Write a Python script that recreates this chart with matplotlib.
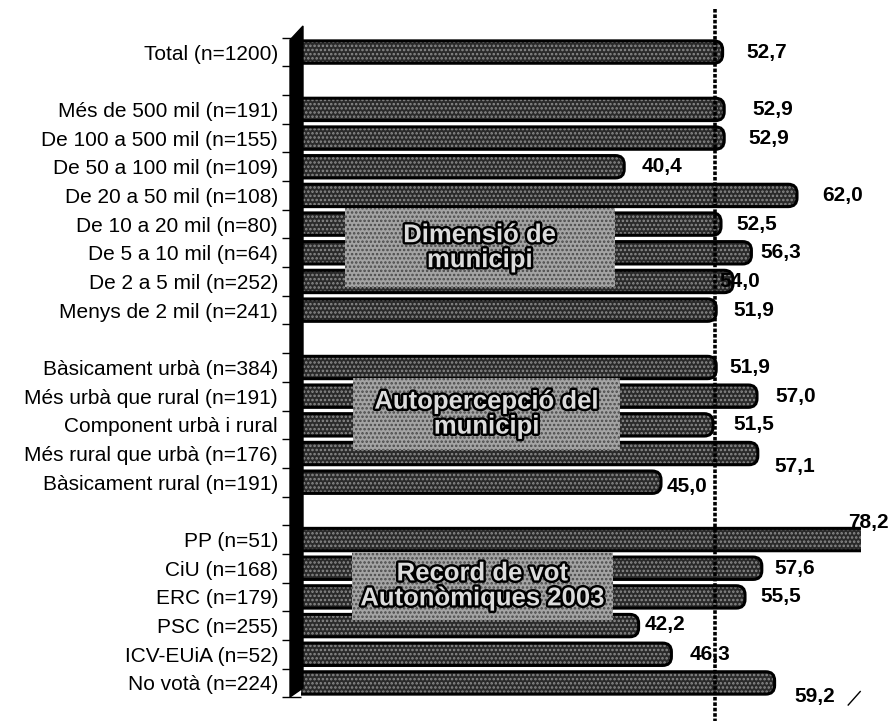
import matplotlib.pyplot as plt
import matplotlib.patheffects as pe
from matplotlib.patches import FancyBboxPatch, Rectangle, Polygon

# Data (blank rows separate the groups)
categories = ['Total (n=1200)', '',
              'Més de 500 mil (n=191)', 'De 100 a 500 mil (n=155)', 'De 50 a 100 mil (n=109)',
              'De 20 a 50 mil (n=108)', 'De 10 a 20 mil (n=80)', 'De 5 a 10 mil (n=64)',
              'De 2 a 5 mil (n=252)', 'Menys de 2 mil (n=241)', '',
              'Bàsicament urbà (n=384)', 'Més urbà que rural (n=191)', 'Component urbà i rural',
              'Més rural que urbà (n=176)', 'Bàsicament rural (n=191)', '',
              'PP (n=51)', 'CiU (n=168)', 'ERC (n=179)', 'PSC (n=255)', 'ICV-EUiA (n=52)',
              'No votà (n=224)']
values = [52.7, None,
          52.9, 52.9, 40.4, 62.0, 52.5, 56.3, 54.0, 51.9, None,
          51.9, 57.0, 51.5, 57.1, 45.0, None,
          78.2, 57.6, 55.5, 42.2, 46.3, 59.2]
value_labels = ['52,7', None,
                '52,9', '52,9', '40,4', '62,0', '52,5', '56,3', '54,0', '51,9', None,
                '51,9', '57,0', '51,5', '57,1', '45,0', None,
                '78,2', '57,6', '55,5', '42,2', '46,3', '59,2']
reference_value = 51.7
group_titles = ['Dimensió de\nmunicipi', 'Autopercepció del\nmunicipi',
                'Record de vot\nAutonòmiques 2003']

# label placement (pixels from bar end), as in the original
label_dx = [24, 0, 28, 24, 17, 25, 15, 9, -14, 17, 0, 13, 18, 20, 17, 6, 0, -13, 13, 15, 6, 18, 20]
label_dy = [0, 0, 0, 0, 0, 0, 0, 0, 0, 0, 0, 0, 0, 0, -13, -4, 0, 17, 0, 0, 1, 0, -14]
# (row_top, row_bottom, x_left, x_right) of the group boxes
group_boxes = [(5.44, 8.2, 5.5, 39.2), (11.37, 13.88, 6.5, 39.9), (17.43, 19.8, 6.4, 39.0)]

plt.rcParams['font.family'] = ['Liberation Sans', 'DejaVu Sans']
plt.rcParams['hatch.linewidth'] = 1.2

xmax = 70
fig = plt.figure(figsize=(8.94, 7.21), dpi=100)
ax = fig.add_axes([0.3367, 0.0329, 0.6264, 0.9148])
ax.set_xlim(0, xmax)
ax.set_ylim(len(categories) - 0.5, -0.5)

bar_h = 0.78
asp = (0.9148 * 721 / len(categories)) / (0.6264 * 894 / xmax)
for i, v in enumerate(values):
    if v is None:
        continue
    # textured fill
    body = FancyBboxPatch((-2, i - bar_h / 2), v + 2, bar_h,
                          boxstyle='round,pad=0,rounding_size=1.1',
                          mutation_aspect=1 / asp,
                          facecolor='#2a2a2a', edgecolor='#8c8c8c', hatch='....',
                          linewidth=0, zorder=2)
    ax.add_patch(body)
    edge = FancyBboxPatch((-2, i - bar_h / 2), v + 2, bar_h,
                          boxstyle='round,pad=0,rounding_size=1.1',
                          mutation_aspect=1 / asp,
                          facecolor='none', edgecolor='black', linewidth=2.2, zorder=3)
    ax.add_patch(edge)
    ax.annotate(value_labels[i], xy=(min(v, xmax), i), xytext=(label_dx[i], label_dy[i]),
                textcoords='offset pixels', ha='left', va='center',
                fontsize=15, fontweight='bold', annotation_clip=False, zorder=6)

# reference dotted line
ax.plot([reference_value, reference_value], [-1.5, len(categories) + 0.6],
        color='black', linewidth=2.6, linestyle=(0, (1, 0.5)), clip_on=False, zorder=4)

# group boxes
for (r0, r1, x0, x1), title in zip(group_boxes, group_titles):
    ax.add_patch(Rectangle((x0, r0), x1 - x0, r1 - r0, facecolor='#a4a4a4',
                           edgecolor='#4a4a4a', hatch='....', linewidth=0, zorder=5))
    ax.text((x0 + x1) / 2, (r0 + r1) / 2, title, ha='center', va='center',
            fontsize=18.5, fontweight='bold', color='#dcdcdc', linespacing=1.05, zorder=6,
            path_effects=[pe.withStroke(linewidth=3.5, foreground='black')])

# stray mark beside the last label
ax.plot([68.4, 69.9], [22.77, 22.3], color='black', linewidth=1, clip_on=False)

# axis wall
W, H = 894, 721
wall = [(290, 40), (303, 26), (303, 688), (290, 697)]
fig.patches.append(Polygon([(x / W, 1 - y / H) for x, y in wall], closed=True,
                           facecolor='black', edgecolor='black',
                           transform=fig.transFigure, zorder=10))

ax.set_yticks(range(len(categories)))
ax.set_yticklabels(categories, fontsize=15)
ax.set_yticks([i + 0.5 for i in range(-1, len(categories))], minor=True)
ax.tick_params(axis='y', which='major', length=0, pad=16.5)
ax.tick_params(axis='y', which='minor', length=14, width=1, color='black', pad=0)
ax.set_xticks([])
for s in ax.spines.values():
    s.set_visible(False)

fig.savefig('out.png', dpi=100)
